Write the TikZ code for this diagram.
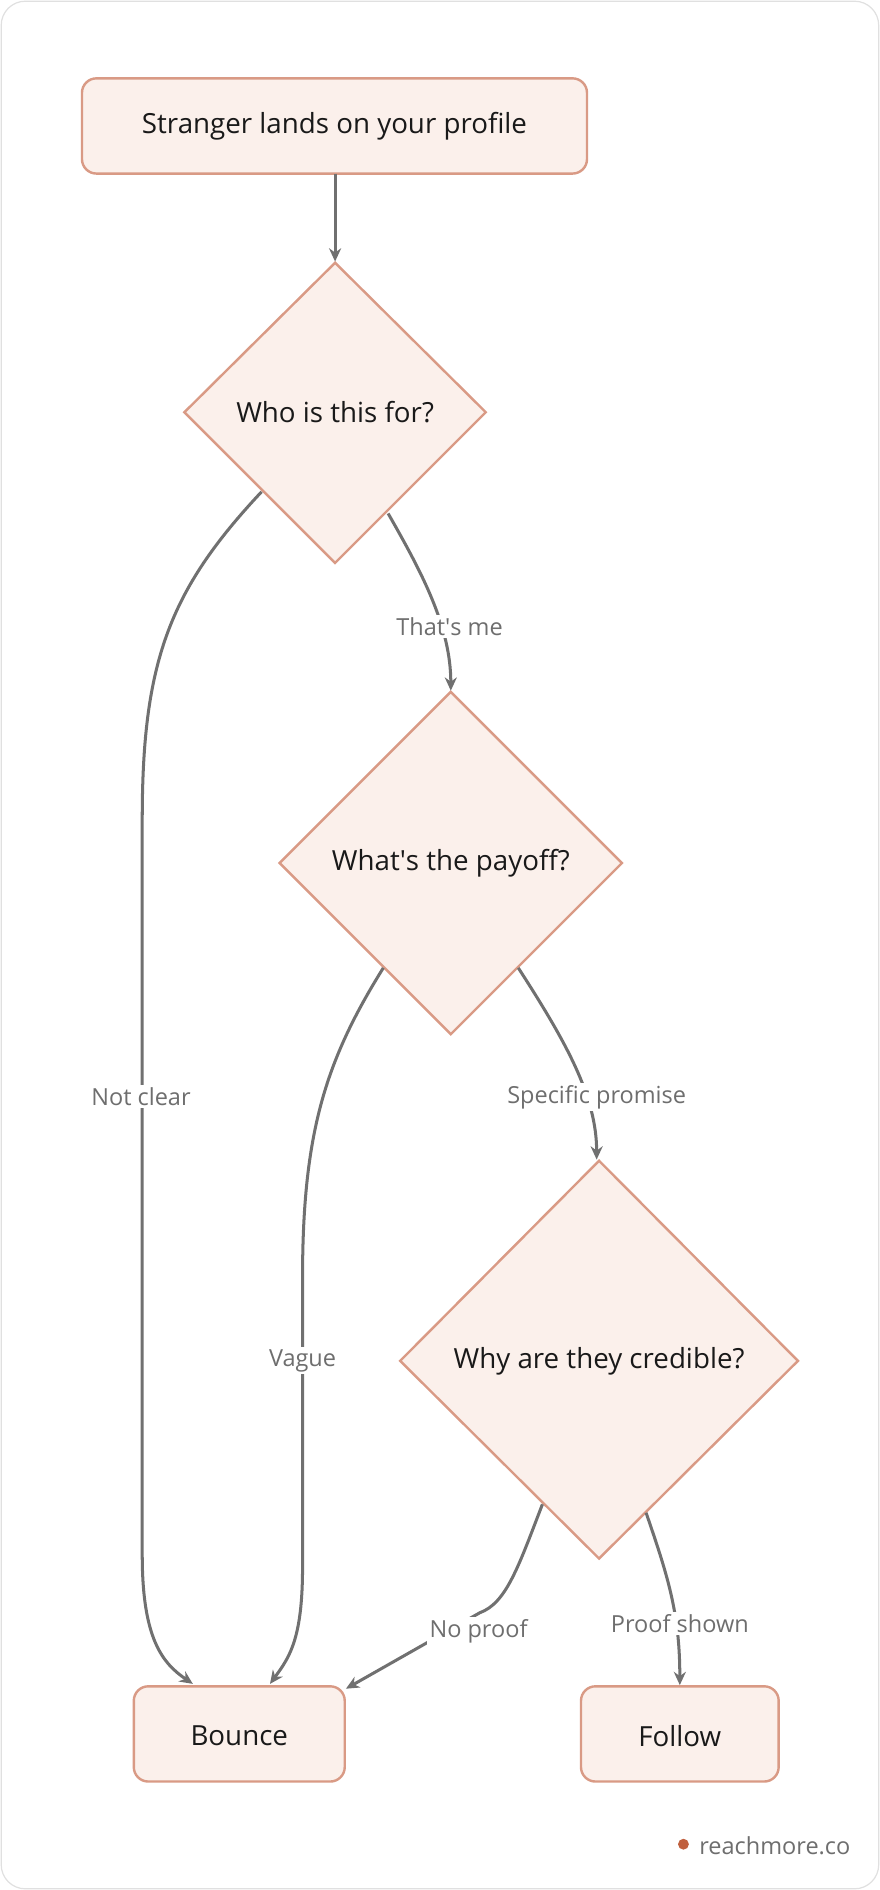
\documentclass[tikz,border=0pt]{standalone}
\usepackage{fontspec}
\setmainfont{Open Sans}
\usetikzlibrary{shapes.geometric,arrows.meta}
\definecolor{nfill}{HTML}{FBF0EB}
\definecolor{nline}{HTML}{D99A85}
\definecolor{eline}{HTML}{707070}
\definecolor{ltext}{HTML}{6E6E6E}
\definecolor{dot}{HTML}{C0603E}
\newcommand\nf{\fontsize{23}{27}\selectfont}
\newcommand\lf{\fontsize{19.5}{23}\selectfont}
\begin{document}
\begin{tikzpicture}[x=1pt,y=-1pt,
  box/.style={draw=nline,fill=nfill,line width=2pt,rounded corners=12pt},
  dia/.style={draw=nline,fill=nfill,line width=2pt},
  txt/.style={text=black!90,font=\nf},
  edge/.style={draw=eline,line width=2.5pt,-{Stealth[length=11pt,width=10pt]}},
  lab/.style={fill=white,text=ltext,font=\lf,inner sep=2pt}]
\path[use as bounding box] (0,0) rectangle (730,1568);
\draw[black!12,line width=1pt,rounded corners=20pt,fill=white] (1,1) rectangle (729,1567);
% nodes
\draw[box] (68,65) rectangle (487,144);
\node[txt] (start) at (277.5,104.5) {Stranger lands on your profile};
\draw[dia] (278,218) -- (403,342) -- (278,467) -- (153,342) -- cycle;
\node[txt] (d1) at (278,342) {Who is this for?};
\draw[dia] (374,574) -- (516,716) -- (374,858) -- (232,716) -- cycle;
\node[txt] (d2) at (374,716) {What\textquotesingle s the payoff?};
\draw[dia] (497,963) -- (662,1129) -- (497,1293) -- (332,1129) -- cycle;
\node[txt] (d3) at (497,1129) {Why are they credible?};
\draw[box] (111,1399) rectangle (286,1478);
\node[txt] (bounce) at (198.5,1440) {Bounce};
\draw[box] (482,1399) rectangle (646,1478);
\node[txt] (follow) at (564,1440) {Follow};
\coordinate (s0) at (278,144); \coordinate (s1) at (278,217);
\coordinate (a0) at (217,408); \coordinate (a1) at (160,1397);
\coordinate (b0) at (322,426); \coordinate (b1) at (374,573);
\coordinate (c0) at (318,803); \coordinate (c1) at (224,1397);
\coordinate (e0) at (430,803); \coordinate (e1) at (495,962);
\coordinate (f0) at (450,1248); \coordinate (f1) at (287,1401);
\coordinate (g0) at (536,1255); \coordinate (g1) at (564,1398);
% edges
\draw[edge] (s0) -- (s1);
\draw[edge] (a0) .. controls (140,490) and (118,550) .. (118,680) -- (118,1290) .. controls (118,1360) and (135,1380) .. (a1);
\draw[edge] (b0) .. controls (350,475) and (374,520) .. (b1);
\draw[edge] (c0) .. controls (270,880) and (251,940) .. (251,1060) -- (251,1300) .. controls (251,1360) and (240,1375) .. (c1);
\draw[edge] (e0) .. controls (470,865) and (495,910) .. (e1);
\draw[edge] (f0) .. controls (430,1300) and (420,1330) .. (398,1338) -- (f1);
\draw[edge] (g0) .. controls (555,1310) and (564,1340) .. (g1);
% labels
\node[lab] (l1) at (117,910) {Not clear};
\node[lab] (l2) at (373,520) {That\textquotesingle s me};
\node[lab] (l3) at (251,1129) {Vague};
\node[lab] (l4) at (495,910) {Specific promise};
\node[lab] (l5) at (397,1353) {No proof};
\node[lab] (l6) at (564,1347) {Proof shown};
% footer
\fill[dot] (567,1530) circle (4.5pt);
\node[text=ltext,font=\lf,anchor=west,inner sep=0pt] (ft) at (580,1531) {reachmore.co};
\end{tikzpicture}
\end{document}
